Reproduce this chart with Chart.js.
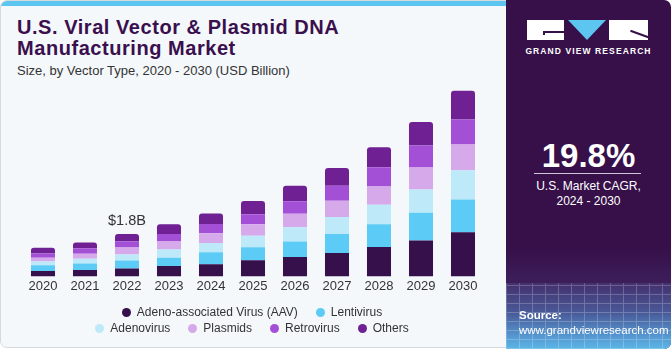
<!DOCTYPE html>
<html>
<head>
<meta charset="utf-8">
<script src="https://cdn.jsdelivr.net/npm/chart.js@4.4.1/dist/chart.umd.min.js"></script>
<style>
html, body { margin: 0; padding: 0; background: #ffffff; }
body { width: 671px; height: 350px; position: relative; overflow: hidden; font-family: "Liberation Sans", Arial, sans-serif; }
#card { position: absolute; left: 0; top: 0; width: 520px; height: 348px; background: #f4f8fb; border: 1px solid #d5dadf; border-radius: 7px; box-sizing: border-box; overflow: hidden; }
#strip { position: absolute; left: 0; top: 0; width: 100%; height: 5px; background: #5cc6f1; }
#title { position: absolute; left: 17px; top: 17px; font-size: 20px; font-weight: bold; line-height: 21px; color: #3a0f4e; letter-spacing: 0.55px; }
#subtitle { position: absolute; left: 17px; top: 63px; font-size: 13px; color: #333; }
#chartBox { position: absolute; left: 0; top: 0; width: 505px; height: 350px; }
#legend { position: absolute; left: 0; top: 304px; width: 504px; font-size: 12px; color: #333; }
.row { display: flex; justify-content: center; height: 16px; align-items: center; }
.item { display: flex; align-items: center; margin: 0 9px; }
.dot { width: 9px; height: 9px; border-radius: 50%; margin-right: 6px; }
#panel { position: absolute; left: 506px; top: 0; width: 165px; height: 349px; border-radius: 0 7px 7px 0; overflow: hidden; background: #37104a; color: #fff; }
#floor { position: absolute; left: 0; top: 283px; width: 165px; height: 66px;
  background: linear-gradient(to bottom, #44306e 0%, #4a5a98 45%, #5597d0 80%, #5cb6e6 100%); }
#fade { position: absolute; left: 0; top: 250px; width: 165px; height: 33px; background: linear-gradient(to bottom, #37104a, #3d1f5c); }
#grid { position: absolute; left: 0; top: 283px; width: 165px; height: 66px; opacity: 0.22;
  background-image: repeating-linear-gradient(90deg, #fff 0 1px, transparent 1px 13px), repeating-linear-gradient(0deg, #fff 0 1px, transparent 1px 9px); }
#logo { position: absolute; left: 21px; top: 20px; width: 121px; height: 20px; }
.blk { position: absolute; top: 0; height: 20px; background: #fff; }
#gvr { position: absolute; left: 0; top: 46px; width: 165px; text-align: center; font-size: 8.5px; font-weight: bold; letter-spacing: 1.1px; }
#cagr { position: absolute; left: 0; top: 137px; width: 165px; text-align: center; font-size: 33px; font-weight: bold; }
#rule { position: absolute; left: 28px; top: 173px; width: 107px; height: 1px; background: #cfc4d8; }
#cagrText { position: absolute; left: 0; top: 179px; width: 165px; text-align: center; font-size: 12px; line-height: 15px; }
#source { position: absolute; left: 13px; top: 308px; font-size: 11.5px; line-height: 15px; }
</style>
</head>
<body>
<div id="card"><div id="strip"></div></div>
<div id="title">U.S. Viral Vector &amp; Plasmid DNA<br>Manufacturing Market</div>
<div id="subtitle">Size, by Vector Type, 2020 - 2030 (USD Billion)</div>
<div id="chartBox"><canvas id="chart"></canvas></div>
<div id="legend"></div>
<div id="panel">
  <div id="fade"></div>
  <div id="floor"></div>
  <div id="grid"></div>
  <div id="logo">
    <div class="blk" style="left:0;width:37px;"></div>
    <div style="position:absolute;left:16px;top:11px;width:21px;height:1.5px;background:#37104a;"></div>
    <div style="position:absolute;left:16px;top:11px;width:1.5px;height:4px;background:#37104a;"></div>
    <div style="position:absolute;left:41px;top:0;width:0;height:0;border-left:19.5px solid transparent;border-right:19.5px solid transparent;border-top:20px solid #5cc6f1;"></div>
    <div class="blk" style="left:82px;width:39px;"></div>
    <div style="position:absolute;left:103px;top:13px;width:19px;height:1.5px;background:#37104a;transform:rotate(20deg);"></div>
  </div>
  <div id="gvr">GRAND VIEW RESEARCH</div>
  <div id="cagr">19.8%</div>
  <div id="rule"></div>
  <div id="cagrText">U.S. Market CAGR,<br>2024 - 2030</div>
  <div id="source"><b>Source:</b><br>www.grandviewresearch.com</div>
</div>
<script>
// Categories
var years = ['2020', '2021', '2022', '2023', '2024', '2025', '2026', '2027', '2028', '2029', '2030'];

// Series values (USD Billion)
var aav        = [0.23, 0.27, 0.34, 0.44, 0.52, 0.69, 0.83, 1.00, 1.25, 1.53, 1.88];
var lentivirus = [0.24, 0.28, 0.34, 0.36, 0.51, 0.55, 0.66, 0.81, 0.97, 1.18, 1.40];
var adenovirus = [0.16, 0.20, 0.25, 0.35, 0.39, 0.49, 0.60, 0.72, 0.83, 0.99, 1.24];
var plasmids   = [0.17, 0.22, 0.30, 0.34, 0.42, 0.49, 0.58, 0.69, 0.78, 0.94, 1.10];
var retrovirus = [0.18, 0.23, 0.27, 0.32, 0.39, 0.43, 0.53, 0.64, 0.82, 0.94, 1.07];
var others     = [0.24, 0.25, 0.31, 0.41, 0.45, 0.56, 0.66, 0.76, 0.86, 1.00, 1.22];

// Annotation
var calloutYear = '2022';
var calloutText = '$1.8B';

var seriesNames  = ['Adeno-associated Virus (AAV)', 'Lentivirus', 'Adenovirus', 'Plasmids', 'Retrovirus', 'Others'];
var seriesColors = ['#36104a', '#5ccbf5', '#bde9f9', '#d6a9eb', '#a450d6', '#6f2194'];
var seriesData   = [aav, lentivirus, adenovirus, plasmids, retrovirus, others];

var datasets = seriesData.map(function(values, i) {
    var last = i === seriesData.length - 1;
    return {
        label: seriesNames[i],
        data: values,
        backgroundColor: seriesColors[i],
        borderRadius: last ? { topLeft: 3, topRight: 3, bottomLeft: 0, bottomRight: 0 } : 0,
        borderSkipped: false,
        barPercentage: 0.8,
        categoryPercentage: 0.715
    };
});

// Total label above one bar
var calloutPlugin = {
    id: 'callout',
    afterDatasetsDraw: function(chart) {
        var idx = years.indexOf(calloutYear);
        var total = 0;
        seriesData.forEach(function(values) { total += values[idx]; });
        var x = chart.scales.x.getPixelForValue(idx);
        var y = chart.scales.y.getPixelForValue(total);
        var ctx = chart.ctx;
        ctx.save();
        ctx.font = '14.5px "Liberation Sans", Arial, sans-serif';
        ctx.fillStyle = '#333333';
        ctx.textAlign = 'center';
        ctx.textBaseline = 'bottom';
        ctx.fillText(calloutText, x, y - 6);
        ctx.restore();
    }
};

new Chart(document.getElementById('chart'), {
    type: 'bar',
    data: { labels: years, datasets: datasets },
    plugins: [calloutPlugin],
    options: {
        responsive: true,
        maintainAspectRatio: false,
        animation: false,
        layout: { padding: { left: 22, right: 21, top: 77, bottom: 54 } },
        plugins: {
            legend: { display: false },
            tooltip: { enabled: false }
        },
        scales: {
            x: {
                stacked: true,
                grid: { display: false, drawTicks: false },
                border: { display: false },
                ticks: { color: '#333333', padding: 2, font: { size: 13, family: '"Liberation Sans", Arial, sans-serif' } }
            },
            y: {
                stacked: true,
                display: false,
                min: 0,
                max: 8.5
            }
        }
    }
});

// HTML legend in two rows, like the reference
var legendRows = [[0, 1], [2, 3, 4, 5]];
var legendEl = document.getElementById('legend');
legendRows.forEach(function(row) {
    var rowEl = document.createElement('div');
    rowEl.className = 'row';
    row.forEach(function(i) {
        var item = document.createElement('div');
        item.className = 'item';
        var dot = document.createElement('span');
        dot.className = 'dot';
        dot.style.background = seriesColors[i];
        item.appendChild(dot);
        item.appendChild(document.createTextNode(seriesNames[i]));
        rowEl.appendChild(item);
    });
    legendEl.appendChild(rowEl);
});
</script>
</body>
</html>
